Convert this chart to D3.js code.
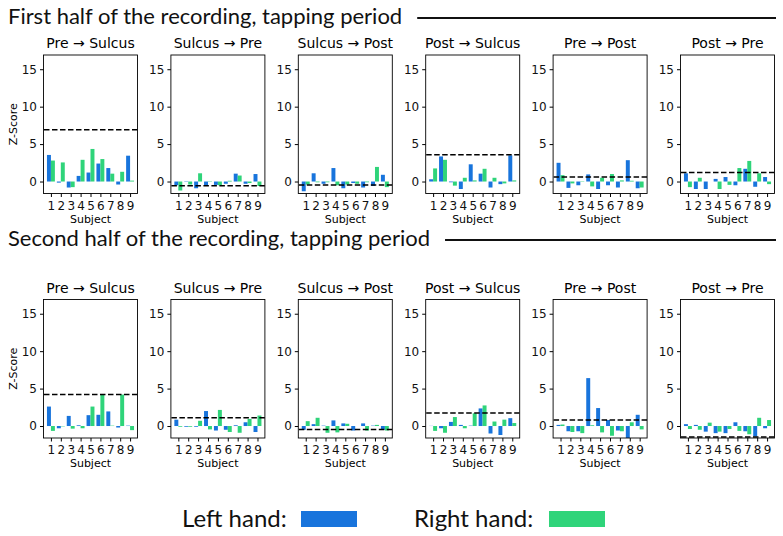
<!DOCTYPE html>
<html>
<head>
<meta charset="utf-8">
<script src="https://cdn.jsdelivr.net/npm/d3@7"></script>
<style>
  body { margin: 0; background: #fff; }
  svg { display: block; }
</style>
</head>
<body>
<div id="chart"></div>
<script>
// panel titles (same in both rows)
const panelTitles = ["Pre \u2192 Sulcus", "Sulcus \u2192 Pre", "Sulcus \u2192 Post", "Post \u2192 Sulcus", "Pre \u2192 Post", "Post \u2192 Pre"];
const rowTitles = ["First half of the recording, tapping period", "Second half of the recording, tapping period"];
const subjects = [1, 2, 3, 4, 5, 6, 7, 8, 9];
const yTicks = [0, 5, 10, 15];

// first half: left hand (blue) per panel
const firstLeft = [
  [3.55, -0.15, -0.8, 0.75, 1.2, 2.4, 1.8, -0.4, 3.45],
  [-0.5, -0.05, -0.9, -0.55, -0.45, -0.3, 1.05, -0.3, 1.0],
  [-1.3, 1.1, -0.3, 1.8, -0.9, -0.2, -0.8, -0.6, 0.9],
  [0.3, 3.35, -0.1, -1.0, 2.3, 1.05, -0.8, -0.35, 3.5],
  [2.5, -0.85, -0.5, 0.95, -1.0, -0.5, -0.8, 2.85, -0.9],
  [1.1, -1.0, -1.0, 0.35, 0.6, -0.5, 1.7, -0.7, 0.6]
];
// first half: right hand (green)
const firstRight = [
  [2.8, 2.55, -0.75, 2.9, 4.35, 3.0, 1.05, 1.3, 0.12],
  [-1.2, -0.4, 1.1, -0.05, -0.5, 0.1, 0.8, -0.2, -0.6],
  [-0.4, -0.1, -0.1, -0.5, -0.4, -0.3, -0.1, 1.95, -0.75],
  [1.75, 2.9, -0.55, 0.5, 0.15, 1.7, 0.5, -0.25, 0.15],
  [0.85, -0.25, -0.05, -0.65, 0.5, 1.0, 0.15, 0.1, -0.8],
  [-0.75, 0.5, 0.0, -1.0, -0.45, 1.8, 2.75, 1.1, -0.35]
];
const firstThreshold = [6.9, -0.55, -0.45, 3.57, 0.62, 1.2];

// second half
const secondLeft = [
  [2.6, -0.3, 1.35, 0.1, 1.45, 1.5, 1.95, -0.2, 0.05],
  [0.85, -0.1, -0.1, 2.0, -0.6, -0.5, 0.1, 0.5, -0.8],
  [-0.5, 0.25, 0.05, 0.75, 0.35, -0.6, 0.35, 0.05, -0.5],
  [0.02, -0.3, 0.55, 0.15, 0.05, 2.35, -1.0, -1.2, 1.05],
  [0.15, -0.7, -0.7, 6.4, 2.4, 0.8, -0.6, -1.65, 1.5],
  [0.25, 0.15, -0.75, -0.95, -0.95, 0.5, -0.7, -1.4, -0.3]
];
const secondRight = [
  [-0.65, -0.05, -0.35, -0.3, 2.6, 4.15, 0.05, 4.2, -0.55],
  [-0.1, -0.1, 0.7, -0.45, 2.15, -0.8, -0.9, 0.95, 1.4],
  [0.65, 1.1, -0.9, -0.85, 0.3, 0.0, -0.6, 0.15, -0.6],
  [-0.65, -0.9, 1.2, -0.3, 1.7, 2.75, 0.6, 0.85, 0.4],
  [0.2, -0.8, -0.95, 0.1, -0.85, -1.3, -0.7, 0.5, -0.45],
  [-0.4, -0.5, 0.45, -0.75, -0.4, -0.65, -1.1, 1.1, 0.8]
];
const secondThreshold = [4.2, 1.1, -0.45, 1.75, 0.8, -1.45];

const legendLabels = ["Left hand:", "Right hand:"];

const blue = "#1874dc", green = "#2fd47a";
const width = 783, height = 536;

const svg = d3.select("#chart").append("svg")
  .attr("width", width)
  .attr("height", height);

const panelW = 94, panelH = 138.5;
const colLeft = 43.5, colStep = 127.4;
const rowTop = [55, 299.5];

const x = d3.scaleLinear().domain([0.25, 9.75]).range([0, panelW]);
const y = d3.scaleLinear().domain([-1.6, 16.9]).range([panelH, 0]);
const barW = 0.4;

const rows = [
  { left: firstLeft, right: firstRight, thr: firstThreshold },
  { left: secondLeft, right: secondRight, thr: secondThreshold }
];

// row headers with the rule after the text
const headerY = [24, 246];
rows.forEach((r, ri) => {
  const t = svg.append("text")
    .attr("x", 8)
    .attr("y", headerY[ri])
    .style("font", "22px Lato, 'Noto Sans', sans-serif")
    .attr("fill", "#111")
    .text(rowTitles[ri]);
  const tw = t.node().getComputedTextLength();
  svg.append("line")
    .attr("x1", 8 + tw + 15).attr("x2", 776)
    .attr("y1", headerY[ri] - 6).attr("y2", headerY[ri] - 6)
    .attr("stroke", "#111").attr("stroke-width", 2);
});

rows.forEach((r, ri) => {
  panelTitles.forEach((title, pi) => {
    const g = svg.append("g")
      .attr("transform", `translate(${colLeft + pi * colStep},${rowTop[ri]})`);

    const defs = g.append("clipPath").attr("id", `clip${ri}${pi}`);
    defs.append("rect").attr("width", panelW).attr("height", panelH);

    const plot = g.append("g").attr("clip-path", `url(#clip${ri}${pi})`);

    // left hand bars
    plot.selectAll(".bl")
      .data(subjects)
      .join("rect")
      .attr("x", (d) => x(d - barW))
      .attr("width", x(barW) - x(0))
      .attr("y", (d, i) => y(Math.max(0, r.left[pi][i])))
      .attr("height", (d, i) => Math.abs(y(r.left[pi][i]) - y(0)))
      .attr("fill", blue);

    // right hand bars
    plot.selectAll(".br")
      .data(subjects)
      .join("rect")
      .attr("x", (d) => x(d))
      .attr("width", x(barW) - x(0))
      .attr("y", (d, i) => y(Math.max(0, r.right[pi][i])))
      .attr("height", (d, i) => Math.abs(y(r.right[pi][i]) - y(0)))
      .attr("fill", green);

    // threshold
    plot.append("line")
      .attr("x1", x(0.3)).attr("x2", x(9.75))
      .attr("y1", y(r.thr[pi])).attr("y2", y(r.thr[pi]))
      .attr("stroke", "#000")
      .attr("stroke-width", 1.5)
      .attr("stroke-dasharray", "5.5,2.5");

    // frame
    g.append("rect")
      .attr("width", panelW).attr("height", panelH)
      .attr("fill", "none").attr("stroke", "#000").attr("stroke-width", 0.9);

    const yAxis = g.append("g")
      .call(d3.axisLeft(y).tickValues(yTicks).tickSize(3.5).tickSizeOuter(0));
    yAxis.select(".domain").remove();
    yAxis.selectAll("text").style("font", "12px 'DejaVu Sans', sans-serif").attr("fill", "#111");

    const xAxis = g.append("g")
      .attr("transform", `translate(0,${panelH})`)
      .call(d3.axisBottom(x).tickValues(subjects).tickFormat(d3.format("d")).tickSize(3.5).tickSizeOuter(0));
    xAxis.select(".domain").remove();
    xAxis.selectAll("text").style("font", "12px 'DejaVu Sans', sans-serif").attr("fill", "#111").attr("dy", "0.8em");

    g.append("text")
      .attr("x", panelW / 2)
      .attr("y", panelH + 29)
      .attr("text-anchor", "middle")
      .style("font", "11px 'DejaVu Sans', sans-serif")
      .text("Subject");

    g.append("text")
      .attr("x", panelW / 2)
      .attr("y", -7)
      .attr("text-anchor", "middle")
      .style("font", "14px 'DejaVu Sans', sans-serif")
      .text(title);

    if (pi === 0) {
      g.append("text")
        .attr("transform", `translate(-27,${panelH / 2}) rotate(-90)`)
        .attr("text-anchor", "middle")
        .style("font", "11px 'DejaVu Sans', sans-serif")
        .text("Z-Score");
    }
  });
});

// legend
const legendX = [182, 414];
const swatchX = [301, 549];
const legendColors = [blue, green];
legendLabels.forEach((lab, i) => {
  svg.append("text")
    .attr("x", legendX[i])
    .attr("y", 527)
    .style("font", "24px Lato, 'Noto Sans', sans-serif")
    .attr("fill", "#111")
    .text(lab);
  svg.append("rect")
    .attr("x", swatchX[i])
    .attr("y", 511)
    .attr("width", 56)
    .attr("height", 16)
    .attr("fill", legendColors[i]);
});
</script>
</body>
</html>
